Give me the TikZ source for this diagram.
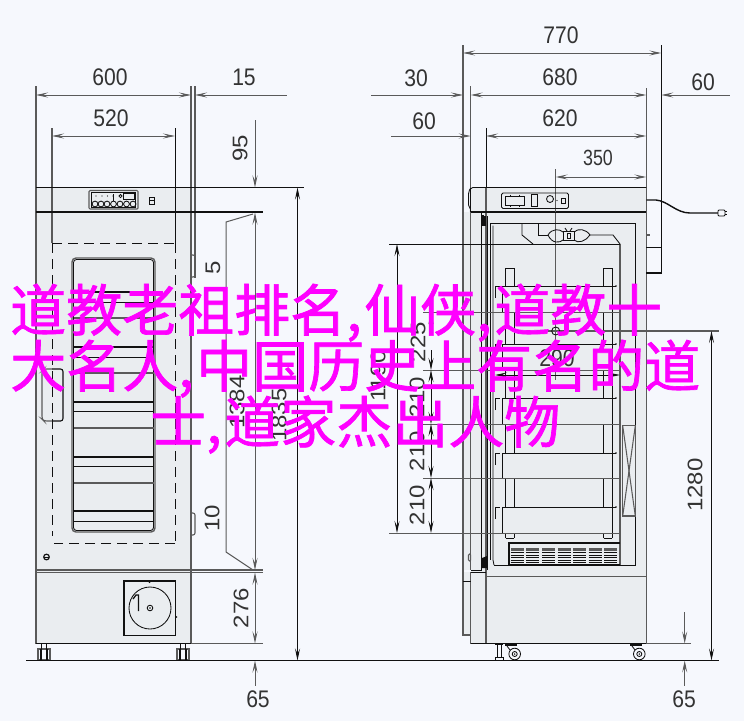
\documentclass[tikz,border=0pt]{standalone}
\usepackage{fontspec}
\setsansfont{Liberation Sans}
\newfontfamily\cjk[FakeBold=1.2]{Noto Sans CJK SC}
\usetikzlibrary{arrows.meta}
\definecolor{bgc}{HTML}{F6F8FD}
\definecolor{bodyc}{HTML}{EAEDF0}
\definecolor{inkc}{HTML}{111111}
\definecolor{grayc}{HTML}{5A5A5A}
\definecolor{magc}{HTML}{FF00FF}
\tikzset{
  thin line/.style={draw=inkc,line width=0.85pt},
  gray line/.style={draw=grayc,line width=1.05pt},
  heavy line/.style={draw=inkc,line width=1.8pt},
  dim line/.style={draw=grayc,line width=1pt},
  arr/.style={-{Stealth[length=12pt,width=5pt,inset=5pt,fill=inkc]}},
  rarr/.style={{Stealth[length=12pt,width=5pt,inset=5pt,fill=inkc]}-},
  darr/.style={{Stealth[length=12pt,width=5pt,inset=5pt,fill=inkc]}-{Stealth[length=12pt,width=5pt,inset=5pt,fill=inkc]}},
  dimtext/.style={font=\sffamily\fontsize{24}{24}\selectfont,text=black!80,inner sep=0pt,xscale=0.88},
  dimv/.style={dimtext,rotate=90},
  pink/.style={font=\cjk\fontsize{56}{56}\selectfont,text=magc,inner sep=0pt,anchor=base west},
}
\begin{document}
\begin{tikzpicture}[x=1pt,y=-1pt]
\useasboundingbox (0,0) rectangle (744,721);
\fill[bgc] (0,0) rectangle (744,721);
% ---------- LEFT VIEW ----------
\fill[bodyc] (36,187.5) rectangle (191,643.5);
\draw[gray line] (36,86) -- (36,643.5);
\draw[gray line] (191,86) -- (191,643.5);
\draw[gray line] (195,86) -- (195,278);
\draw[gray line] (52,128) -- (52,243);
\draw[thin line] (175,128) -- (175,243);
% dims
\draw[dim line,darr] (36,95) -- (191,95);
\draw[dim line,rarr] (195,95) -- (287,95);
\draw[dim line,darr] (52,136) -- (175,136);
\node[dimtext] (t600) at (110,77) {600};
\node[dimtext] (t15) at (244,77) {15};
\node[dimtext] (t520) at (111,118) {520};
% top band
\draw[thin line] (36,187.5) -- (304,187.5);
\draw[heavy line] (36,212) -- (263,212);
% panel
\draw[gray line,rounded corners=1pt,fill=bodyc] (89,190.5) rectangle (138,209);
\draw[thin line] (91.5,192.5) rectangle (135.5,207.5);
\foreach \x in {96,102,107.5,113}{\fill[inkc] (\x,196) circle (0.7);}
\draw[thin line] (113,194) -- (113,201);
\draw[thin line] (123.5,193) rectangle (134,199);
\draw[thin line] (120.5,196) circle (1.6);
\foreach \x in {95,101,107,113.5,120,126.5,133}{\draw[thin line] (\x,204) circle (2.9);}
\draw[thin line] (149,197) rectangle (154,204);
\draw[thin line] (149,200.5) -- (154,200.5);
% dashed
\draw[thin line,dash pattern=on 10pt off 6pt] (52,243) -- (175,243);
\draw[thin line,dash pattern=on 10pt off 6pt] (175,243) -- (175,543);
\draw[thin line,dash pattern=on 10pt off 6pt] (175,543) -- (54,543);
\draw[thin line,dash pattern=on 10pt off 6pt] (52,243) -- (52,536);
% window
\draw[draw=grayc,line width=1.4pt,rounded corners=4pt] (72,258) rectangle (155,532);
\draw[thin line,rounded corners=3pt] (73.5,259.5) rectangle (153.5,530.5);
\foreach \y in {292,347,402,457,511}{\draw[draw=inkc,line width=1.1pt] (73.5,\y) -- (153.5,\y);}
\foreach \y in {302,357,411,466,521}{\draw[thin line] (73.5,\y) -- (153.5,\y);}
\foreach \y in {318,373,428,483}{\draw[gray line] (73.5,\y) -- (153.5,\y);}
% handle
\draw[gray line,rounded corners=2.5pt] (52,369) -- (44,369) -- (42,371) -- (42,419) -- (44,421) -- (52,421);
\draw[draw=inkc,line width=1.1pt,rounded corners=2.5pt] (52,369) -- (63,369) -- (63,421) -- (52,421);
% hinges
\draw[gray line,rounded corners=2pt] (191,255) -- (195,255) -- (195,277) -- (191,277);
\draw[gray line,rounded corners=2pt] (191,513) -- (195,513) -- (195,535) -- (191,535);
% screw
\draw[draw=inkc,line width=1.2pt] (46.5,557) circle (2.8);
\draw[thin line] (44,557) -- (49,557);
% belt
\draw[gray line] (36,570) -- (263,570);
\draw[gray line] (36,572.5) -- (263,572.5);
% fan box
\draw[draw=inkc,line width=1.3pt] (124,581) rectangle (175.5,635.5);
\draw[thin line] (150,608) circle (21);
\draw[thin line] (150,608) circle (2.8);
\fill[inkc] (150,608) circle (0.9);
\draw[draw=inkc,line width=1.3pt] (133,599) -- (136,595) -- (138.5,595) -- (138.5,611);
\fill[inkc] (149.5,582) circle (1);
\fill[inkc] (176.5,617) circle (0.8);
% base + feet
\draw[thin line] (36,643.5) -- (191,643.5);
\draw[dim line] (191,643.5) -- (263,643.5);
\foreach \x in {38,177}{
  \draw[gray line] (\x,649) rectangle (\x+12,660);
  \draw[thin line] (\x+3.5,644) -- (\x+3.5,660);
  \draw[thin line] (\x+8,644) -- (\x+8,660);
  \draw[thin line] (\x+2.5,649) -- (\x+2.5,660);
  \draw[thin line] (\x+9,649) -- (\x+9,660);
}
% left dims
\draw[dim line,arr] (255,120) -- (255,187.5);
\draw[dim line,rarr] (255,212.5) -- (255,240);
\draw[dim line] (255,240) -- (255,545);
\draw[dim line,arr] (255,545) -- (255,570);
\draw[dim line,darr] (255,572.5) -- (255,643.5);
\draw[dim line,rarr] (255,660.5) -- (255,686);
\draw[dim line] (253,214) -- (226,222) -- (226,552) -- (253,570);
\draw[thin line,darr] (297.5,187.5) -- (297.5,660.5);
\node[dimv] (t95) at (240,148) {95};
\node[dimv] (t5) at (213,268) {5};
\node[dimv] (t10) at (212,518) {10};
\node[dimv] (t1384) at (237,402) {1384};
\node[dimv] (t1835) at (279,415) {1835};
\node[dimv] (t276) at (241,608) {276};
\node[dimtext] (t65a) at (258,699) {65};
% floor
\draw[thin line,line width=1pt] (26,660.5) -- (719,660.5);
% ---------- RIGHT VIEW ----------
\fill[bodyc] (470.7,187.5) rectangle (646,643.5);
\fill[bodyc] (463,212) rectangle (481.3,570);
\fill[bodyc] (463,572) rectangle (486,635);
% ext lines
\draw[gray line] (463,45) -- (463,212);
\draw[gray line] (463,212) -- (463,635) -- (470.7,635);
\draw[thin line] (661.3,45) -- (661.3,247);
\draw[gray line] (470.7,86) -- (470.7,570);
\draw[gray line] (470.7,572) -- (470.7,643.5);
\draw[thin line] (481.3,212) -- (481.3,570) -- (470.7,570);
\draw[thin line] (486,128) -- (486,212);
\draw[gray line] (486,212) -- (486,643.5);
\draw[gray line] (646.3,88) -- (646.3,643.5);
\draw[gray line] (555.7,169) -- (555.7,380);
% dims
\draw[dim line,darr] (463,53) -- (661.3,53);
\draw[dim line,darr] (470.7,95) -- (646.3,95);
\draw[dim line,arr] (371,95) -- (463,95);
\draw[dim line,rarr] (661.3,95) -- (730,95);
\draw[dim line,darr] (486,136) -- (646.3,136);
\draw[dim line,arr] (391,136) -- (470.7,136);
\draw[dim line,darr] (555.7,177) -- (646.3,177);
\node[dimtext] (t770) at (561,35) {770};
\node[dimtext] (t680) at (560,77) {680};
\node[dimtext] (t30) at (416,78) {30};
\node[dimtext] (t60r) at (703,82) {60};
\node[dimtext] (t620) at (560,118) {620};
\node[dimtext] (t60l) at (424,121) {60};
\node[dimtext,xscale=0.92,font=\sffamily\fontsize{22}{22}\selectfont] (t350) at (598,158) {350};
% top band
\fill[bodyc] (468.5,187.5) rectangle (646,212);
\draw[thin line,rounded corners=2pt] (646.3,187.5) -- (470.7,187.5) -- (468.5,192) -- (468.5,207) -- (470.7,209);
\draw[thin line] (470.7,187.5) -- (470.7,212);
\draw[gray line] (646.3,187.5) -- (646.3,212);
\draw[gray line] (486,187.5) -- (486,212);
\draw[heavy line] (470.7,212) -- (646.3,212);
\draw[gray line] (555.7,187.5) -- (555.7,212);
% panel
\draw[thin line,rounded corners=1.5pt] (501.5,193) rectangle (568.5,208.5);
\draw[thin line] (505,196) rectangle (524,205);
\foreach \x in {510,519}{\draw[thin line] (\x,194.5) -- (\x,196);\draw[thin line] (\x,205) -- (\x,206.5);}
\draw[thin line] (531,194) rectangle (537.5,206);
\draw[thin line] (550,199) circle (3.5);
\fill[inkc] (557,200.5) circle (0.6);
\draw[thin line] (561,198) rectangle (565,203);
% cable
\draw[draw=inkc,line width=1.4pt] (646.3,200) -- (656,200) .. controls (668,201) and (676,213) .. (690,213) -- (718,213);
\draw[thin line,fill=bgc,rounded corners=1pt] (718,210) rectangle (725,216);
\draw[thin line] (725,211.5) -- (727,211.5);
\draw[thin line] (725,214.5) -- (727,214.5);
% back box
\draw[gray line] (646.3,235) -- (650,235);
\draw[thin line] (646.3,247) -- (661.3,247);
\draw[draw=inkc,line width=1.2pt] (661.3,247) -- (661.3,273) -- (646.3,273);
% cabinet
\draw[thin line] (490,223.5) -- (635.5,223.5) -- (635.5,565) -- (494,565);
\draw[thin line] (487.5,216) -- (487.5,570);
\draw[thin line] (490,223.5) -- (490,560);
\draw[thin line] (493,225.5) -- (493,560) -- (494,565);
\draw[draw=inkc,line width=2pt] (483,215) -- (483,226);
\fill[inkc] (482,216) rectangle (486,226);
\fill[inkc] (482,558) -- (487,556) -- (487,568) -- (482,568) -- cycle;
% ducts
\draw[gray line] (620,244) -- (620,565);
\draw[thin line] (522,224) -- (522,235) -- (533,244);
\draw[thin line] (538,224) -- (538,235) -- (548,235);
\draw[thin line] (548,235) .. controls (552,228) and (560,229) .. (563,232);
\draw[thin line] (548,235) .. controls (552,244) and (560,243) .. (563,240);
\draw[thin line] (563,231) rectangle (574,240);
\draw[thin line] (567,233) rectangle (570.5,238);
\draw[thin line] (565,228) -- (567,231);
\draw[thin line] (572,228) -- (570,231);
\draw[thin line] (574,232) .. controls (578,228) and (586,229) .. (590,235);
\draw[thin line] (574,240) .. controls (578,244) and (586,241) .. (590,235);
\draw[thin line] (590,235) -- (613,235) -- (620,244);
% drawer uprights
\foreach \x in {505.5,514,603.5,612}{\draw[thin line] (\x,268) -- (\x,538);}
\foreach \a in {505.5,603.5}{\draw[thin line] (\a,268) -- (\a+8.5,268);\draw[thin line] (\a,538) -- (\a+8.5,538);}
% drawers
\foreach \t/\b in {286/312,344/370,398/424,453/478,507/533}{
  \draw[thin line,fill=bodyc] (502,\t) rectangle (612.7,\b);
  \draw[thin line] (612.7,\t) -- (616,\t);
  \fill[inkc] (616,\t) circle (0.8);
  \draw[draw=inkc,line width=1pt] (495.5,\t+12) -- (495.5,\t) -- (500,\t);
}
% X panel
\draw[gray line] (622.7,425.7) rectangle (635.3,516);
\draw[gray line] (622.7,425.7) -- (635.3,516);
\draw[gray line] (635.3,425.7) -- (622.7,516);
% vents
\draw[draw=inkc,line width=1.1pt] (620,543) -- (509,543) -- (509,565) -- (620,565);
\foreach \x in {510.5,526.3,542,557.7,573.3,588.7,604}{
  \fill[grayc] (\x,548) rectangle (\x+13,550.5);
  \foreach \y in {552.5,555,557.5,560,562.5}{\draw[draw=inkc,line width=0.7pt] (\x,\y) -- (\x+13,\y);}
}
% lower
\draw[gray line] (486,576.5) -- (646.3,576.5);
\draw[thin line] (470.7,572) -- (486,572);
\draw[thin line] (463,581) -- (470.7,581);
\draw[gray line,rounded corners=1pt] (468.5,554) rectangle (470.7,561);
% base
\draw[thin line] (470.7,643.5) -- (646.3,643.5);
\draw[dim line] (646.3,643.5) -- (691,643.5);
% leveler and casters
\draw[thin line] (495,644) -- (503,644);
\draw[thin line] (497,644) -- (497,657);
\draw[thin line] (501,644) -- (501,657);
\draw[thin line] (495,657) rectangle (503,660);
\foreach \x/\o in {514.7/505,639.3/630}{
  \draw[draw=inkc,line width=1.2pt] (\o,645) -- (\o+12,645);
  \draw[thin line] (\o+2,646) -- (\o+5,650);
  \draw[thin line,fill=bgc] (\x,654) circle (5.8);
  \draw[thin line] (\x,654) circle (2.5);
  \fill[inkc] (\x,654) circle (0.8);
}
% right dims with text
\draw[draw=inkc,line width=1pt] (389,244) -- (620,244);
\draw[thin line,darr] (397,244) -- (397,533);
\draw[dim line] (423,312) -- (620,312);
\draw[dim line] (423,370) -- (620,370);
\draw[dim line] (423,424) -- (620,424);
\draw[dim line] (423,478) -- (620,478);
\draw[dim line] (389,533) -- (620,533);
\draw[thin line,rarr] (431,312) -- (431,335);
\draw[thin line,arr] (431,350) -- (431,370);
\draw[thin line,darr] (431,370) -- (431,424);
\draw[thin line,darr] (431,424) -- (431,478);
\draw[thin line,darr] (431,478) -- (431,533);
\draw[gray line] (545,331) -- (719,331);
\draw[thin line] (555.7,331) circle (4);
\draw[thin line,darr] (711.5,331) -- (711.5,660.5);
\draw[thin line,darr] (495,375) -- (620,375);
\node[dimv] (t1190) at (378,376) {1190};
\node[dimv] (t225) at (418,342) {225};
\node[dimv] (t210a) at (417,397) {210};
\node[dimv] (t210b) at (417,451) {210};
\node[dimv] (t210c) at (417,505) {210};
\node[dimv] (t1280) at (695,485) {1280};
\node[dimtext] (t290) at (557,358) {290};
\draw[dim line,arr] (684.7,612) -- (684.7,643.5);
\draw[dim line,rarr] (684.7,660.5) -- (684.7,686);
\node[dimtext] (t65b) at (684,699) {65};
% ---------- OVERLAY TEXT ----------
\node[pink] (l1) at (10,331) {道教老祖排名,\kern2.5pt 仙侠,\kern2.5pt 道教十};
\node[pink] (l2) at (10,387) {大名人,\kern2.5pt 中国历史上有名的道};
\node[pink] (l3) at (150,443) {士,\kern2.5pt 道家杰出人物};
\end{tikzpicture}
\end{document}
